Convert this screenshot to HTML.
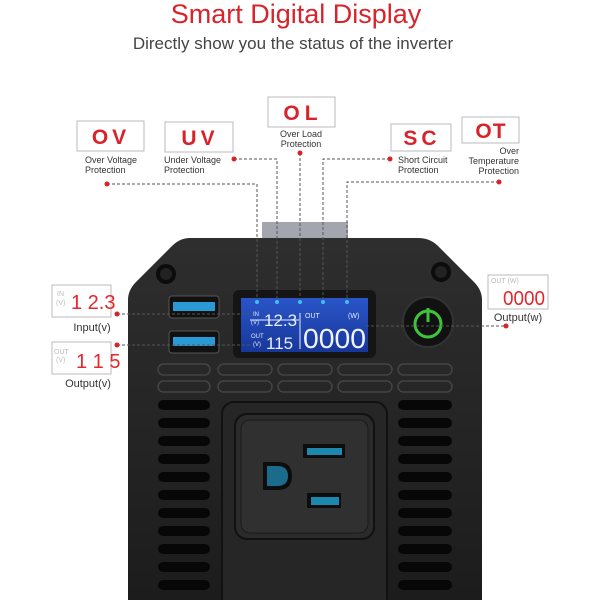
<!DOCTYPE html>
<html><head><meta charset="utf-8"><style>
html,body{margin:0;padding:0;background:#fff;width:600px;height:600px;overflow:hidden}
svg{display:block}
text{font-family:"Liberation Sans",sans-serif}
</style></head><body>
<svg width="600" height="600" viewBox="0 0 600 600" xmlns="http://www.w3.org/2000/svg">
<defs>
<linearGradient id="lcd" x1="0" y1="0" x2="0" y2="1"><stop offset="0" stop-color="#2a55c8"/><stop offset="1" stop-color="#17379a"/></linearGradient>
<linearGradient id="body" x1="0" y1="0" x2="0" y2="1"><stop offset="0" stop-color="#2e2e2e"/><stop offset="1" stop-color="#1c1c1c"/></linearGradient>
</defs>
<text x="296" y="23" text-anchor="middle" font-size="27" fill="#d8232a">Smart Digital Display</text>
<text x="293" y="49" text-anchor="middle" font-size="17" fill="#444">Directly show you the status of the inverter</text>

<!-- plug piece -->
<rect x="262" y="222" width="86" height="20" fill="#a3a6ae"/>
<!-- body -->
<path d="M190,238 L418,238 Q430,238 438,246 L474,282 Q482,290 482,300 L482,600 L128,600 L128,300 Q128,290 136,282 L172,246 Q180,238 190,238 Z" fill="url(#body)"/>
<circle cx="166" cy="274" r="10" fill="#0c0c0c"/><circle cx="166" cy="274" r="6" fill="#222"/>
<circle cx="441" cy="272" r="10" fill="#0c0c0c"/><circle cx="441" cy="272" r="6" fill="#222"/>

<!-- USB -->
<rect x="169" y="296" width="50" height="22" rx="3" fill="#111" stroke="#555"/>
<rect x="173" y="302" width="42" height="9" fill="#2a9ad6"/>
<rect x="169" y="331" width="50" height="22" rx="3" fill="#111" stroke="#555"/>
<rect x="173" y="337" width="42" height="9" fill="#2a9ad6"/>

<!-- LCD -->
<rect x="233" y="290" width="143" height="68" rx="6" fill="#151515"/>
<rect x="241" y="298" width="127" height="54" fill="url(#lcd)"/>
<line x1="250" y1="320" x2="299" y2="320" stroke="#e8eefc" stroke-width="1"/>
<line x1="300" y1="313" x2="300" y2="349" stroke="#e8eefc" stroke-width="1"/>
<text x="253" y="316" font-size="6" fill="#e8eefc">IN</text><text x="251" y="324" font-size="6" fill="#e8eefc">(V)</text>
<text x="251" y="338" font-size="6" fill="#e8eefc">OUT</text><text x="253" y="346" font-size="6" fill="#e8eefc">(V)</text>
<text x="264" y="326" font-size="17" fill="#e8eefc">12.3</text>
<text x="266" y="349" font-size="17" fill="#e8eefc">115</text>
<text x="305" y="318" font-size="7" fill="#e8eefc">OUT</text><text x="348" y="318" font-size="7" fill="#e8eefc">(W)</text>
<text x="303" y="348" font-size="28" fill="#f0f4ff" textLength="63" lengthAdjust="spacingAndGlyphs">0000</text>

<!-- power -->
<circle cx="428" cy="322" r="25" fill="#111" stroke="#333" stroke-width="2"/>
<circle cx="428" cy="324" r="13" fill="none" stroke="#3ec43a" stroke-width="3"/>
<line x1="428" y1="308" x2="428" y2="322" stroke="#3ec43a" stroke-width="3"/>

<!-- pill vents -->
<g fill="none" stroke="#444" stroke-width="1.5">
<rect x="158" y="364" width="52" height="11" rx="5.5"/><rect x="218" y="364" width="54" height="11" rx="5.5"/><rect x="278" y="364" width="54" height="11" rx="5.5"/><rect x="338" y="364" width="54" height="11" rx="5.5"/><rect x="398" y="364" width="54" height="11" rx="5.5"/>
<rect x="158" y="381" width="52" height="11" rx="5.5"/><rect x="218" y="381" width="54" height="11" rx="5.5"/><rect x="278" y="381" width="54" height="11" rx="5.5"/><rect x="338" y="381" width="54" height="11" rx="5.5"/><rect x="398" y="381" width="54" height="11" rx="5.5"/>
</g>
<!-- slots -->
<g fill="#070707">
<rect x="158" y="400" width="52" height="10" rx="5"/><rect x="158" y="418" width="52" height="10" rx="5"/><rect x="158" y="436" width="52" height="10" rx="5"/><rect x="158" y="454" width="52" height="10" rx="5"/><rect x="158" y="472" width="52" height="10" rx="5"/><rect x="158" y="490" width="52" height="10" rx="5"/><rect x="158" y="508" width="52" height="10" rx="5"/><rect x="158" y="526" width="52" height="10" rx="5"/><rect x="158" y="544" width="52" height="10" rx="5"/><rect x="158" y="562" width="52" height="10" rx="5"/><rect x="158" y="580" width="52" height="10" rx="5"/>
<rect x="398" y="400" width="54" height="10" rx="5"/><rect x="398" y="418" width="54" height="10" rx="5"/><rect x="398" y="436" width="54" height="10" rx="5"/><rect x="398" y="454" width="54" height="10" rx="5"/><rect x="398" y="472" width="54" height="10" rx="5"/><rect x="398" y="490" width="54" height="10" rx="5"/><rect x="398" y="508" width="54" height="10" rx="5"/><rect x="398" y="526" width="54" height="10" rx="5"/><rect x="398" y="544" width="54" height="10" rx="5"/><rect x="398" y="562" width="54" height="10" rx="5"/><rect x="398" y="580" width="54" height="10" rx="5"/>
</g>
<!-- outlet -->
<rect x="222" y="402" width="165" height="220" rx="12" fill="#262626" stroke="#111" stroke-width="2"/>
<rect x="235" y="414" width="139" height="125" rx="12" fill="#2b2b2b" stroke="#111" stroke-width="2"/>
<rect x="241" y="420" width="127" height="113" rx="9" fill="#303030" stroke="#1a1a1a"/>
<path d="M263,462 L278,462 Q292,462 292,476 Q292,490 278,490 L263,490 Z" fill="#0d0d0d"/>
<path d="M267,466 L277,466 Q288,466 288,476 Q288,486 277,486 L267,486 Z" fill="#1b6c8c"/>
<rect x="303" y="444" width="42" height="14" fill="#0d0d0d"/><rect x="307" y="448" width="35" height="7" fill="#1d88ae"/>
<rect x="307" y="493" width="34" height="15" fill="#0d0d0d"/><rect x="311" y="497" width="28" height="8" fill="#1d88ae"/>

<!-- top label boxes -->
<g fill="#fff" stroke="#bbb" stroke-width="1">
<rect x="77" y="121" width="67" height="30"/><rect x="165" y="122" width="68" height="30"/><rect x="268" y="97" width="67" height="30"/><rect x="391" y="124" width="60" height="27"/><rect x="462" y="117" width="57" height="26"/>
<rect x="52" y="285" width="59" height="32"/><rect x="52" y="342" width="59" height="32"/><rect x="488" y="275" width="60" height="34"/>
</g>
<g fill="#d8232a" font-size="21" font-weight="bold" text-anchor="middle">
<text x="111" y="144" letter-spacing="4">OV</text><text x="200" y="145" letter-spacing="4">UV</text><text x="303" y="120" letter-spacing="5">OL</text><text x="422" y="145" letter-spacing="4">SC</text><text x="491" y="138" letter-spacing="1">OT</text>
</g>
<g fill="#333" font-size="9">
<text x="85" y="163">Over Voltage</text><text x="85" y="173">Protection</text>
<text x="164" y="163">Under Voltage</text><text x="164" y="173">Protection</text>
<text x="301" y="137" text-anchor="middle">Over Load</text><text x="301" y="147" text-anchor="middle">Protection</text>
<text x="398" y="163">Short Circuit</text><text x="398" y="173">Protection</text>
<text x="519" y="154" text-anchor="end">Over</text><text x="519" y="164" text-anchor="end">Temperature</text><text x="519" y="174" text-anchor="end">Protection</text>
</g>
<g fill="#333" font-size="11" text-anchor="middle">
<text x="92" y="331">Input(v)</text><text x="88" y="387">Output(v)</text><text x="518" y="321">Output(w)</text>
</g>
<!-- mini displays -->
<g fill="#bbb" font-size="7"><text x="57" y="296">IN</text><text x="56" y="305">(V)</text><text x="54" y="354">OUT</text><text x="56" y="362">(V)</text><text x="491" y="283">OUT (W)</text></g>
<g fill="#e5262c" font-size="20"><text x="71" y="309">1 2.3</text><text x="76" y="368">1 1 5</text><text x="503" y="305" textLength="42" lengthAdjust="spacingAndGlyphs">0000</text></g>

<!-- connectors -->
<g fill="none" stroke="#555" stroke-width="1" stroke-dasharray="3,2">
<polyline points="107,184 257,184 257,302"/>
<polyline points="234,159 277,159 277,302"/>
<polyline points="300,153 300,302"/>
<polyline points="390,159 323,159 323,302"/>
<polyline points="499,182 347,182 347,302"/>
<polyline points="117,314 252,314"/>
<polyline points="117,345 252,345"/>
<polyline points="366,326 506,326"/>
</g>
<g fill="#d8232a">
<circle cx="107" cy="184" r="2.5"/><circle cx="234" cy="159" r="2.5"/><circle cx="300" cy="153" r="2.5"/><circle cx="390" cy="159" r="2.5"/><circle cx="499" cy="182" r="2.5"/>
<circle cx="117" cy="314" r="2.5"/><circle cx="117" cy="345" r="2.5"/><circle cx="506" cy="326" r="2.5"/>
</g>
<g fill="#3cc0f0"><circle cx="257" cy="302" r="2"/><circle cx="277" cy="302" r="2"/><circle cx="300" cy="302" r="2"/><circle cx="323" cy="302" r="2"/><circle cx="347" cy="302" r="2"/></g>
</svg>
</body></html>
